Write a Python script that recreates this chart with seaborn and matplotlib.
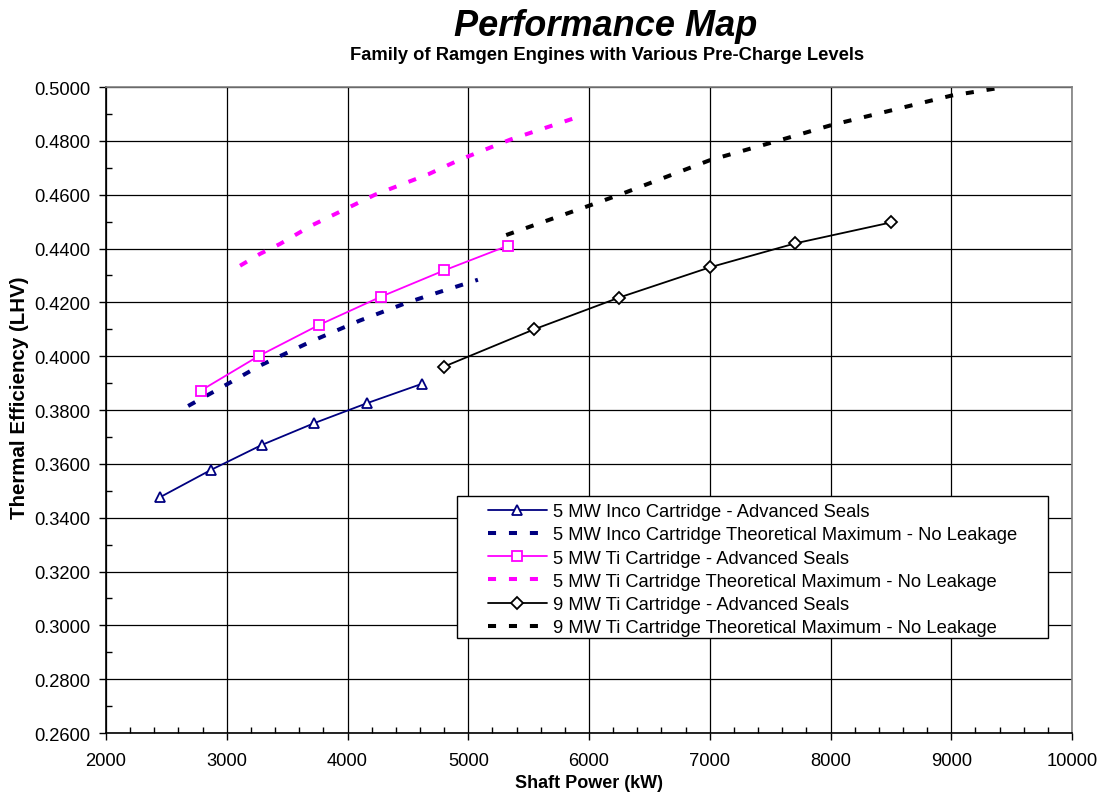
import matplotlib
matplotlib.use("Agg")
import matplotlib.pyplot as plt
from matplotlib.ticker import MultipleLocator, FormatStrFormatter
from matplotlib.patches import Rectangle
import seaborn as sns
import pandas as pd

# 5 MW Inco cartridge
inco_adv_kw = [2447, 2867, 3289, 3723, 4159, 4614]
inco_adv_eff = [0.3476, 0.3577, 0.3670, 0.3751, 0.3825, 0.3897]
inco_max_kw = [2680, 3000, 3275, 3700, 4100, 4500, 4766, 5080]
inco_max_eff = [0.3815, 0.3895, 0.3965, 0.4055, 0.4132, 0.4200, 0.4239, 0.4284]

# 5 MW Ti cartridge
ti5_adv_kw = [2784, 3270, 3764, 4277, 4802, 5332]
ti5_adv_eff = [0.3872, 0.4002, 0.4116, 0.4221, 0.4319, 0.4411]
ti5_max_kw = [3110, 3275, 3441, 3700, 4228, 4670, 4930, 5350, 5870]
ti5_max_eff = [0.4336, 0.4380, 0.4417, 0.4485, 0.4600, 0.4676, 0.4730, 0.4805, 0.4883]

# 9 MW Ti cartridge
ti9_adv_kw = [4798, 5547, 6251, 7000, 7707, 8502]
ti9_adv_eff = [0.3961, 0.4100, 0.4218, 0.4330, 0.4419, 0.4497]
ti9_max_kw = [5314, 6000, 6272, 7000, 7578, 8003, 9000, 9443]
ti9_max_eff = [0.4450, 0.4559, 0.4603, 0.4728, 0.4802, 0.4858, 0.4968, 0.5000]

labels = ["5 MW Inco Cartridge - Advanced Seals",
          "5 MW Inco Cartridge Theoretical Maximum - No Leakage",
          "5 MW Ti Cartridge - Advanced Seals",
          "5 MW Ti Cartridge Theoretical Maximum - No Leakage",
          "9 MW Ti Cartridge - Advanced Seals",
          "9 MW Ti Cartridge Theoretical Maximum - No Leakage"]

sns.set_style("ticks")
plt.rcParams["font.family"] = ["Liberation Sans", "DejaVu Sans"]
plt.rcParams["text.color"] = "black"
plt.rcParams["axes.labelcolor"] = "black"
plt.rcParams["xtick.color"] = "black"
plt.rcParams["ytick.color"] = "black"

fig = plt.figure(figsize=(11.02, 8.03), dpi=100)
ax = fig.add_axes([0.0962, 0.0859, 0.8766, 0.8045])

navy = "#000080"
magenta = "#FF00FF"
black = "#000000"

series = [
    (inco_adv_kw, inco_adv_eff, navy, "^", True),
    (inco_max_kw, inco_max_eff, navy, None, False),
    (ti5_adv_kw, ti5_adv_eff, magenta, "s", True),
    (ti5_max_kw, ti5_max_eff, magenta, None, False),
    (ti9_adv_kw, ti9_adv_eff, black, "D", True),
    (ti9_max_kw, ti9_max_eff, black, None, False),
]

for (xs, ys, col, mk, solid), lab in zip(series, labels):
    df = pd.DataFrame({"kw": xs, "eff": ys})
    if solid:
        sns.lineplot(data=df, x="kw", y="eff", ax=ax, color=col, lw=1.3,
                     marker=mk, markersize=6 if mk == "D" else 7.5,
                     markerfacecolor="white", markeredgecolor=col,
                     markeredgewidth=1.3, label=lab, sort=False)
    else:
        sns.lineplot(data=df, x="kw", y="eff", ax=ax, color=col, lw=2.9,
                     label=lab, sort=False)
        ax.lines[-1].set_dashes((2.0, 3.2))
        ax.lines[-1].set_dash_capstyle("butt")

ax.set_xlim(2000, 10000)
ax.set_ylim(0.26, 0.50)
ax.xaxis.set_major_locator(MultipleLocator(1000))
ax.xaxis.set_minor_locator(MultipleLocator(200))
ax.yaxis.set_major_locator(MultipleLocator(0.02))
ax.yaxis.set_minor_locator(MultipleLocator(0.01))
ax.yaxis.set_major_formatter(FormatStrFormatter("%.4f"))

ax.grid(True, which="major", color="black", lw=0.9)
ax.set_axisbelow(True)
ax.tick_params(which="major", direction="out", length=5, width=1, labelsize=13.2)
ax.tick_params(axis="x", which="major", pad=9)
ax.tick_params(axis="y", which="major", pad=6)
ax.tick_params(which="minor", direction="in", length=4, width=1)
for s in ["left", "bottom"]:
    ax.spines[s].set_color("black")
    ax.spines[s].set_linewidth(1.2)
for s in ["top", "right"]:
    ax.spines[s].set_visible(True)
    ax.spines[s].set_color("#808080")
    ax.spines[s].set_linewidth(1.2)

ax.set_xlabel("Shaft Power (kW)", fontsize=13, fontweight="bold", labelpad=3.5)
ax.set_ylabel("Thermal Efficiency (LHV)", fontsize=14.8, fontweight="bold")
ax.yaxis.set_label_coords(-0.080, 0.520)

fig.text(0.550, 0.955, "Performance Map", ha="center", va="baseline",
         fontsize=26, fontweight="bold", fontstyle="italic")
fig.text(0.551, 0.925, "Family of Ramgen Engines with Various Pre-Charge Levels",
         ha="center", va="baseline", fontsize=13.2, fontweight="bold")

# legend frame drawn as a box, entries placed inside it
ax.add_patch(Rectangle((0.3634, 0.1471), 0.6118, 0.2198, transform=ax.transAxes,
                       facecolor="white", edgecolor="black", lw=1.0, zorder=4))
leg = ax.legend(loc="upper left", bbox_to_anchor=(0.3954, 0.356), borderaxespad=0,
                fontsize=13.2, frameon=False, handlelength=3.2, labelspacing=0.34,
                borderpad=0, handletextpad=0.35)
leg.set_zorder(5)

fig.savefig("out.png", dpi=100)
